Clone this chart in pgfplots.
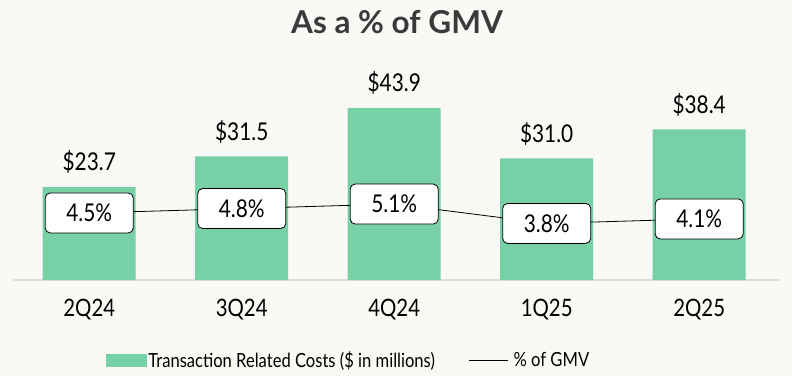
\documentclass[border=0pt]{standalone}
\usepackage{pgfplots}
\pgfplotsset{compat=1.18}
\usepackage{fontspec}
\setmainfont{Lato}[FakeStretch=0.85]
\newfontfamily\titlefont{Lato}
\definecolor{bgc}{HTML}{FAF9F5}
\definecolor{barc}{HTML}{78D1A6}
\definecolor{titc}{HTML}{3A3A3A}
\definecolor{linec}{HTML}{DCDCDA}
\begin{document}
\begin{tikzpicture}[x=1pt,y=1pt]
\fill[bgc] (0,0) rectangle (792,376);
\node[font=\titlefont\bfseries\fontsize{31.5}{31.5}\selectfont, text=titc] at (397,354) {As a \% of GMV};
\begin{axis}[at={(13pt,96pt)}, anchor=south west, width=767pt, height=220pt, scale only axis,
  xmin=-0.5, xmax=4.53, ymin=0, ymax=56.1, clip=false,
  /pgf/number format/assume math mode=true,
  axis y line=none, axis x line*=bottom,
  axis line style={draw=linec, line width=1.5pt, -},
  xtick={0,1,2,3,4}, xticklabels={2Q24,3Q24,4Q24,1Q25,2Q25},
  major tick length=0pt, ytick=\empty,
  xticklabel style={font=\fontsize{24}{24}\selectfont, anchor=north, inner sep=0pt, yshift=-19pt},
]
\addplot[ybar, fill=barc, draw=none, bar width=93pt,
  nodes near coords={\$\pgfmathprintnumber[fixed,fixed zerofill,precision=1]{\pgfplotspointmeta}},
  every node near coord/.append style={font=\fontsize{24.5}{24.5}\selectfont, text=black, inner sep=0pt, yshift=13pt}]
  coordinates {(0,23.7)(1,31.5)(2,43.9)(3,31.0)(4,38.4)};
\end{axis}
\begin{axis}[at={(13pt,96pt)}, anchor=south west, width=767pt, height=220pt, scale only axis,
  xmin=-0.5, xmax=4.53, ymin=0, ymax=14.77, clip=false, hide axis,
  /pgf/number format/assume math mode=true,
  legend style={at={(0.121,-0.364)}, anchor=west, draw=none, fill=none, inner sep=0pt,
    font=\fontsize{19.5}{19.5}\selectfont, legend columns=2,
    /tikz/every even column/.append style={column sep=32pt}},
  legend cell align=left,
]
\addlegendimage{legend image code/.code={\fill[barc] (0pt,-6pt) rectangle (40pt,6pt);}}
\addlegendentry{Transaction Related Costs (\$ in millions)}
\addplot[black, line width=0.8pt, mark=none,
  legend image code/.code={\draw[black, line width=0.8pt] (0pt,0pt) -- (39pt,0pt);},
  nodes near coords={\pgfmathprintnumber[fixed,fixed zerofill,precision=1]{\pgfplotspointmeta}\%},
  every node near coord/.append style={anchor=center, draw=black, fill=white, rounded corners=5pt,
    minimum width=88pt, minimum height=40pt, line width=0.8pt, text=black,
    font=\fontsize{24.5}{24.5}\selectfont}]
  coordinates {(0,4.5)(1,4.8)(2,5.1)(3,3.8)(4,4.1)};
\addlegendentry{\hspace{3pt}\% of GMV}
\end{axis}
\end{tikzpicture}
\end{document}
